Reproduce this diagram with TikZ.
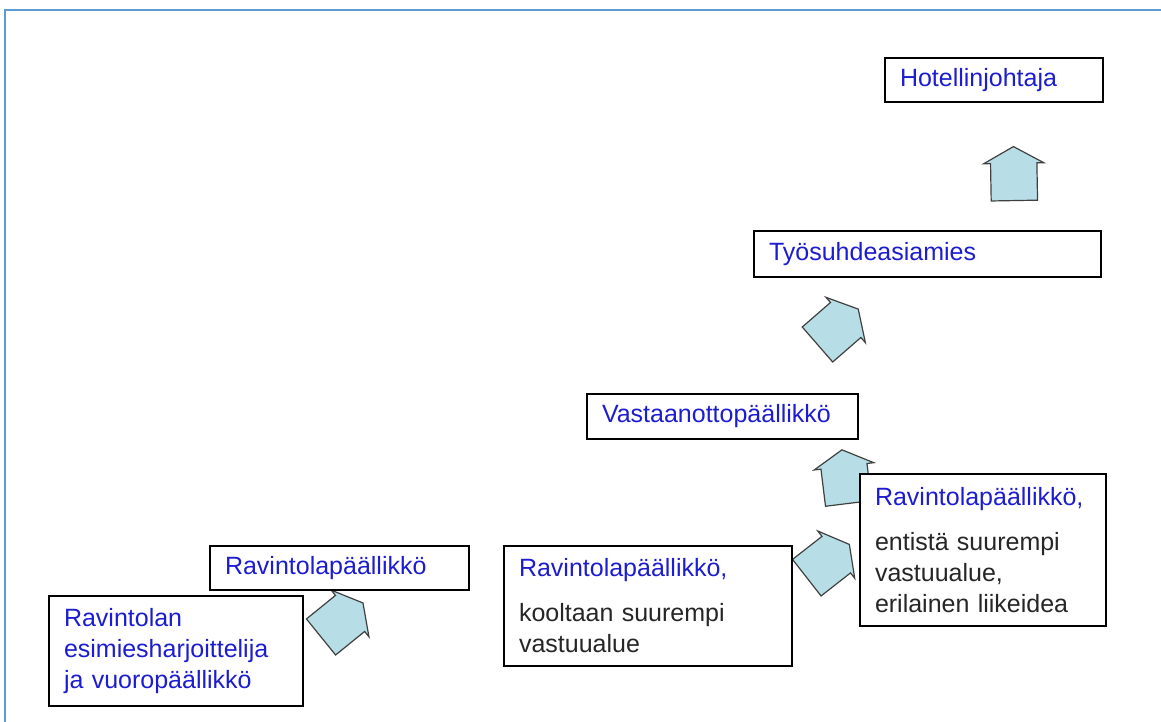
\documentclass[tikz,border=0pt]{standalone}
\usepackage{fontspec}
\setmainfont{Liberation Sans}
\usetikzlibrary{shapes.arrows}
\definecolor{frameblue}{RGB}{91,155,213}
\definecolor{roleblue}{RGB}{28,28,208}
\definecolor{arrowfill}{RGB}{183,222,230}
\tikzset{
  post/.style={draw=black,line width=1pt,fill=white,anchor=north west,inner xsep=7.5pt,
    align=left,font=\fontsize{12.5}{15.5}\selectfont,text=black!85},
  climb/.style={single arrow,draw=black!75,fill=arrowfill,line width=0.6pt,minimum height=27pt,
    minimum width=30pt,inner sep=0pt,inner ysep=6.5pt,single arrow head extend=2pt,
    single arrow tip angle=122}
}
\newcommand{\rolecol}{\color{roleblue}}

\begin{document}
\begin{tikzpicture}[x=0.5pt,y=-0.5pt]
    \useasboundingbox (0,0) rectangle (1161,722);
    \draw[frameblue,line width=1pt] (5,722) -- (5,10) -- (1161,10);
    % arrows between the steps
    \node[climb,rotate=39] (up1) at (337,624) {};
    \node[climb,rotate=38] (up2) at (823,565) {};
    \node[climb,rotate=97] (up3) at (846,483) {};
    \node[climb,rotate=41] (up4) at (833,331) {};
    \node[climb,rotate=91] (up5) at (1014,180) {};
    % career steps
    \node[post,minimum width=127pt,minimum height=55pt,text width=112pt] (ravesim) at (48,595)
        {\rolecol Ravintolan\\esimiesharjoittelija\\ja vuoropäällikkö};
    \node[post,minimum width=129.5pt,minimum height=22pt,text width=114.5pt] (ravpaa) at (209,545)
        {\rolecol Ravintolapäällikkö};
    \node[post,minimum width=144pt,minimum height=60pt,text width=129pt] (ravkoko) at (503,545)
        {{\rolecol Ravintolapäällikkö,}\\[7pt]kooltaan suurempi\\vastuualue};
    \node[post,minimum width=123pt,minimum height=76pt,text width=108pt] (raventis) at (859,473)
        {{\rolecol Ravintolapäällikkö,}\\[7pt]entistä suurempi\\vastuualue,\\erilainen liikeidea};
    \node[post,minimum width=135.5pt,minimum height=22.5pt,text width=120.5pt] (vastaanotto) at (586,393)
        {\rolecol Vastaanottopäällikkö};
    \node[post,minimum width=173.5pt,minimum height=23pt,text width=158.5pt] (tyosuhde) at (753,230)
        {\rolecol Työsuhdeasiamies};
    \node[post,minimum width=109pt,minimum height=22pt,text width=94pt] (hotel) at (884,57)
        {\rolecol Hotellinjohtaja};
\end{tikzpicture}
\end{document}
